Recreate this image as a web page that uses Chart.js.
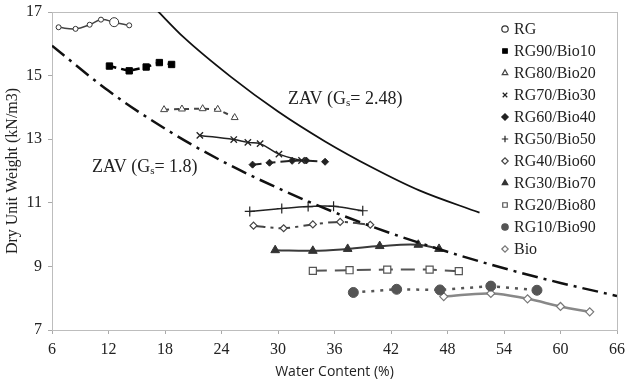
<!DOCTYPE html>
<html>
<head>
<meta charset="utf-8">
<script src="https://cdn.jsdelivr.net/npm/chart.js@4.4.1/dist/chart.umd.min.js"></script>
<style>
html, body { margin: 0; padding: 0; background: #fff; }
</style>
</head>
<body>
<canvas id="chart" width="625" height="385"></canvas>
<script>
// water content (%) and dry unit weight (kN/m3) per mix
const rgW      = [6.7, 8.5, 10.0, 11.2, 12.6, 14.2];
const rgG      = [16.52, 16.47, 16.60, 16.76, 16.68, 16.58];
const rg90W    = [12.1, 14.2, 16.0, 17.4, 18.7];
const rg90G    = [15.30, 15.15, 15.27, 15.41, 15.35];
const rg80W    = [17.9, 19.8, 22.0, 23.6, 25.4];
const rg80G    = [13.93, 13.95, 13.96, 13.94, 13.68];
const rg70W    = [21.7, 25.3, 26.8, 28.1, 30.1, 32.5];
const rg70G    = [13.12, 12.99, 12.90, 12.86, 12.53, 12.33];
const rg60W    = [27.3, 29.1, 31.5, 33.0, 35.0];
const rg60G    = [12.20, 12.26, 12.32, 12.33, 12.29];
const rg50W    = [27.0, 30.4, 33.2, 35.9, 39.0];
const rg50G    = [10.73, 10.82, 10.88, 10.89, 10.75];
const rg40W    = [27.4, 30.6, 33.7, 36.6, 39.8];
const rg40G    = [10.28, 10.20, 10.32, 10.40, 10.31];
const rg30W    = [29.7, 33.7, 37.4, 40.8, 44.9, 47.1];
const rg30G    = [9.51, 9.49, 9.55, 9.64, 9.68, 9.55];
const rg20W    = [33.7, 37.6, 41.6, 46.1, 49.2];
const rg20G    = [8.86, 8.88, 8.90, 8.90, 8.85];
const rg10W    = [38.0, 42.6, 47.2, 52.6, 57.5];
const rg10G    = [8.18, 8.28, 8.26, 8.38, 8.25];
const bioW     = [47.6, 52.6, 56.5, 60.0, 63.1];
const bioG     = [8.05, 8.15, 7.98, 7.74, 7.57];

// zero air voids curves
const zav248W  = [17, 20, 25, 30, 35, 40, 45, 51.4];
const zav248G  = [17.10, 16.20, 14.96, 13.87, 12.93, 12.11, 11.39, 10.69];
const zav18W   = [6, 12, 18, 24, 30, 36, 42, 48, 54, 60, 66];
const zav18G   = [15.94, 14.52, 13.33, 12.32, 11.46, 10.70, 10.04, 9.46, 8.94, 8.48, 8.07];

const xTicks = [6, 12, 18, 24, 30, 36, 42, 48, 54, 60, 66];
const yTicks = [7, 9, 11, 13, 15, 17];

const pts = (ws, gs) => ws.map((w, i) => ({ x: w, y: gs[i] }));

const SERIF = "'Liberation Serif', 'DejaVu Serif', serif";

const series = [
    { label: 'RG', data: pts(rgW, rgG), pointStyle: 'circle', pointRadius: [2.5, 2.5, 2.5, 2.5, 4.5, 2.5],
      pointBackgroundColor: '#fff', pointBorderColor: '#333', pointBorderWidth: 1,
      borderColor: '#444', borderWidth: 1.5, tension: 0.4 },
    { label: 'RG90/Bio10', data: pts(rg90W, rg90G), pointStyle: 'rect', pointRadius: 4.5,
      pointBackgroundColor: '#000', pointBorderColor: '#000', pointBorderWidth: 1,
      borderColor: '#000', borderWidth: 2.5, borderDash: [7, 5], tension: 0 },
    { label: 'RG80/Bio20', data: pts(rg80W, rg80G), pointStyle: 'triangle', pointRadius: 4,
      pointBackgroundColor: '#fff', pointBorderColor: '#444', pointBorderWidth: 1,
      borderColor: '#444', borderWidth: 2, borderDash: [5, 5], tension: 0 },
    { label: 'RG70/Bio30', data: pts(rg70W, rg70G), pointStyle: 'crossRot', pointRadius: 4.5,
      pointBackgroundColor: '#222', pointBorderColor: '#222', pointBorderWidth: 1.3,
      borderColor: '#222', borderWidth: 1.5, tension: 0.4 },
    { label: 'RG60/Bio40', data: pts(rg60W, rg60G), pointStyle: 'rectRot', pointRadius: 3.5,
      pointBackgroundColor: '#222', pointBorderColor: '#222', pointBorderWidth: 1,
      borderColor: '#222', borderWidth: 2, borderDash: [9, 5], tension: 0 },
    { label: 'RG50/Bio50', data: pts(rg50W, rg50G), pointStyle: 'cross', pointRadius: 5,
      pointBackgroundColor: '#222', pointBorderColor: '#222', pointBorderWidth: 1.2,
      borderColor: '#222', borderWidth: 1.5, tension: 0.4 },
    { label: 'RG40/Bio60', data: pts(rg40W, rg40G), pointStyle: 'rectRot', pointRadius: 3.5,
      pointBackgroundColor: '#fff', pointBorderColor: '#444', pointBorderWidth: 1.2,
      borderColor: '#444', borderWidth: 2, borderDash: [12, 5, 3, 5], tension: 0.3 },
    { label: 'RG30/Bio70', data: pts(rg30W, rg30G), pointStyle: 'triangle', pointRadius: 5,
      pointBackgroundColor: '#333', pointBorderColor: '#333', pointBorderWidth: 1,
      borderColor: '#3a3a3a', borderWidth: 2, tension: 0.4 },
    { label: 'RG20/Bio80', data: pts(rg20W, rg20G), pointStyle: 'rect', pointRadius: 5,
      pointBackgroundColor: '#fff', pointBorderColor: '#555', pointBorderWidth: 1.2,
      borderColor: '#555', borderWidth: 2, borderDash: [14, 8], tension: 0 },
    { label: 'RG10/Bio90', data: pts(rg10W, rg10G), pointStyle: 'circle', pointRadius: 5,
      pointBackgroundColor: '#555', pointBorderColor: '#555', pointBorderWidth: 1,
      borderColor: '#555', borderWidth: 2.5, borderDash: [3, 6], tension: 0 },
    { label: 'Bio', data: pts(bioW, bioG), pointStyle: 'rectRot', pointRadius: 4,
      pointBackgroundColor: '#fff', pointBorderColor: '#777', pointBorderWidth: 1.2,
      borderColor: '#888', borderWidth: 2.5, tension: 0.4 }
];

const zavLines = [
    { label: 'ZAV 2.48', data: pts(zav248W, zav248G), borderColor: '#111', borderWidth: 1.8,
      pointRadius: 0, cubicInterpolationMode: 'monotone' },
    { label: 'ZAV 1.8', data: pts(zav18W, zav18G), borderColor: '#111', borderWidth: 2.5,
      borderDash: [16, 6, 3, 6], pointRadius: 0, cubicInterpolationMode: 'monotone' }
];

// frame round the plot, curve labels and the legend list
const overlay = {
    id: 'overlay',
    beforeDatasetsDraw(chart) {
        const { ctx, chartArea: a } = chart;
        ctx.save();
        ctx.strokeStyle = '#bdbdbd';
        ctx.lineWidth = 1;
        ctx.strokeRect(a.left + 0.5, a.top + 0.5, a.right - a.left, a.bottom - a.top);
        ctx.restore();
    },
    afterDraw(chart) {
        const { ctx, scales: { x, y } } = chart;
        ctx.save();
        ctx.fillStyle = '#222';
        ctx.textBaseline = 'middle';
        const zavLabel = (wx, gy, gs) => {
            let px = x.getPixelForValue(wx);
            const py = y.getPixelForValue(gy);
            const parts = [['ZAV (G', 18, 0], ['s', 11, 4], ['= ' + gs + ')', 18, 0]];
            parts.forEach(([t, size, dy]) => {
                ctx.font = size + 'px ' + SERIF;
                ctx.fillText(t, px, py + dy);
                px += ctx.measureText(t).width;
            });
        };
        zavLabel(31.05, 14.26, '2.48');
        zavLabel(10.25, 12.11, '1.8');

        ctx.font = '16px ' + SERIF;
        series.forEach((s, i) => {
            const ly = 29 + i * 22;
            ctx.fillStyle = s.pointBackgroundColor;
            ctx.strokeStyle = s.pointBorderColor;
            ctx.lineWidth = 1.2;
            Chart.helpers.drawPoint(ctx, { pointStyle: s.pointStyle, radius: 3.2, rotation: 0, borderWidth: 1.2 }, 505, ly);
            ctx.fillStyle = '#222';
            ctx.fillText(s.label, 514, ly + 1);
        });
        ctx.restore();
    }
};

new Chart(document.getElementById('chart'), {
    type: 'line',
    data: { datasets: [...zavLines, ...series] },
    plugins: [overlay],
    options: {
        responsive: false,
        animation: false,
        layout: { padding: { top: 12, right: 8, left: 0, bottom: 0 } },
        plugins: { legend: { display: false }, tooltip: { enabled: false } },
        scales: {
            x: {
                type: 'linear', min: 6, max: 66,
                afterBuildTicks: s => { s.ticks = xTicks.map(v => ({ value: v })); },
                afterFit: s => { s.height = 55; s.paddingLeft = 0; s.paddingRight = 0; },
                grid: { drawOnChartArea: false, drawTicks: true, tickLength: 4, color: '#aaa' },
                border: { color: '#aaa' },
                ticks: { color: '#222', padding: 6, font: { family: SERIF, size: 16 } },
                title: { display: true, text: 'Water Content (%)', color: '#222',
                         font: { family: "'Open Sans', sans-serif", size: 14 }, padding: { top: 0, bottom: 5 } }
            },
            y: {
                type: 'linear', min: 7, max: 17,
                afterBuildTicks: s => { s.ticks = yTicks.map(v => ({ value: v })); },
                afterFit: s => { s.width = 52; s.paddingTop = 0; s.paddingBottom = 0; },
                grid: { drawOnChartArea: false, drawTicks: true, tickLength: 4, color: '#aaa' },
                border: { color: '#aaa' },
                ticks: { color: '#222', padding: 6, font: { family: SERIF, size: 16 } },
                title: { display: true, text: 'Dry Unit Weight (kN/m3)', color: '#222',
                         font: { family: SERIF, size: 16 }, padding: { top: 3, bottom: 0 } }
            }
        }
    }
});
</script>
</body>
</html>
